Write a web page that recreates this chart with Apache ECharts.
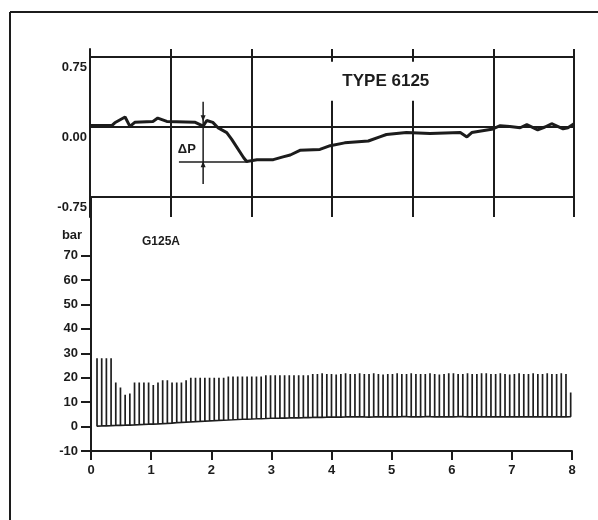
<!DOCTYPE html>
<html>
<head>
<meta charset="utf-8">
<script src="https://cdn.jsdelivr.net/npm/echarts@6/dist/echarts.min.js"></script>
<style>
  html, body { margin: 0; padding: 0; background: #fff; }
  #chart { width: 598px; height: 520px; }
</style>
</head>
<body>
<div id="chart"></div>
<script>
// upper panel: pressure difference curve (time s, delta p)
const dpTime = [0, 0.36, 0.41, 0.58, 0.66, 0.74, 1.04, 1.12, 1.27, 1.74, 1.87, 1.93, 2.03, 2.12, 2.26, 2.34,
  2.54, 2.59, 2.76, 3.03, 3.19, 3.31, 3.47, 3.80, 3.97, 4.21, 4.60, 4.79, 4.90, 5.23, 5.62, 6.12, 6.23,
  6.31, 6.64, 6.78, 6.94, 7.11, 7.22, 7.40, 7.52, 7.63, 7.72, 7.82, 7.90, 8.0];
const dpValue = [0.015, 0.015, 0.045, 0.107, 0.006, 0.05, 0.06, 0.096, 0.06, 0.05, 0.01, 0.07, 0.05, -0.01, -0.06, -0.13,
  -0.33, -0.37, -0.35, -0.35, -0.32, -0.30, -0.25, -0.24, -0.20, -0.17, -0.15, -0.105, -0.08, -0.058, -0.07, -0.06, -0.107,
  -0.06, -0.025, 0.014, 0.005, -0.008, 0.025, -0.03, 0.0, 0.035, 0.01, -0.02, -0.008, 0.035];

const upperColumns = [0, 4 / 3, 8 / 3, 4, 16 / 3, 20 / 3, 8];
const upperRows = [0.75, 0, -0.75];
const lowerTicks = [-10, 0, 10, 20, 30, 40, 50, 60, 70];

// lower panel: injection pulses (bar)
const pulseStart = 0.1;
const pulseStep = 0.078;
const pulseTops = [
  28, 28, 28, 28, 18, 16, 13, 13.5, 18, 18, 18, 18, 17, 18, 19, 19, 18, 18, 18, 19,
  20, 20, 20, 20, 20, 20, 20, 20, 20.5, 20.5, 20.5, 20.5, 20.5, 20.5, 20.5, 20.5,
  21, 21, 21, 21, 21, 21, 21, 21, 21, 21,
  21.5, 21.5, 21.8, 21.5, 21.5, 21.3, 21.5, 21.8, 21.5, 21.5,
  21.8, 21.5, 21.5, 21.8, 21.5, 21.3, 21.5, 21.5, 21.8, 21.5,
  21.5, 21.8, 21.5, 21.5, 21.5, 21.8, 21.5, 21.3, 21.5, 21.8,
  21.8, 21.5, 21.5, 21.8, 21.5, 21.5, 21.8, 21.8, 21.5, 21.5,
  21.8, 21.5, 21.3, 21.5, 21.8, 21.5, 21.5, 21.8, 21.5, 21.5,
  21.8, 21.5, 21.5, 21.8, 21.5, 14];
const pulseBases = [
  0.2, 0.3, 0.3, 0.4, 0.5, 0.5, 0.6, 0.6, 0.7, 0.8, 0.9, 1.0,
  1.0, 1.1, 1.2, 1.3, 1.4, 1.6, 1.7, 1.8, 1.9, 2.0, 2.1, 2.2,
  2.3, 2.4, 2.5, 2.6, 2.7, 2.8, 2.9, 3.0, 3.0, 3.1, 3.2, 3.2, 3.3,
  3.4, 3.4, 3.5, 3.5, 3.6, 3.6, 3.6, 3.7, 3.7, 3.8, 3.8, 3.8, 3.9, 3.9,
  4.0, 3.9, 4.0, 4.0, 4.1, 4.0, 4.0, 3.9, 4.0, 4.0,
  4.1, 4.0, 4.0, 4.0, 4.1, 4.1, 4.0, 4.0, 4.0, 4.1,
  4.1, 4.0, 4.0, 4.1, 4.0, 4.0, 4.1, 4.1, 4.0, 4.0,
  4.0, 4.1, 4.0, 4.0, 4.0, 4.1, 4.0, 4.0, 4.1, 4.0,
  4.0, 4.0, 4.1, 4.0, 4.0, 4.0, 4.1, 4.0, 4.0, 4.0, 4.1];

const ink = '#1c1c1c';
const fontFamily = '"Liberation Sans", Arial, sans-serif';

const chart = echarts.init(document.getElementById('chart'));

const dpData = dpTime.map(function (t, i) { return [t, dpValue[i]]; });

const pulseData = [];
const n = Math.min(pulseTops.length, pulseBases.length);
for (let i = 0; i < n; i++) {
  const t = Math.min(pulseStart + i * pulseStep, 8);
  pulseData.push([t, pulseBases[i]], [t, pulseTops[i]], [t, pulseBases[i]]);
}

const labelStyle = { color: ink, fontFamily: fontFamily, fontWeight: 'bold', fontSize: 13 };

const option = {
  animation: false,
  backgroundColor: '#fff',
  grid: [
    { left: 90, top: 49, width: 484, height: 168 },
    { left: 91, top: 197, width: 481, height: 254 }
  ],
  xAxis: [
    { gridIndex: 0, type: 'value', min: 0, max: 8, show: false },
    {
      gridIndex: 1, type: 'value', min: 0, max: 8, interval: 1,
      axisLine: { onZero: false, lineStyle: { color: ink, width: 2 } },
      axisTick: { length: 9, lineStyle: { color: ink, width: 2 } },
      axisLabel: Object.assign({ margin: 13 }, labelStyle),
      splitLine: { show: false }
    }
  ],
  yAxis: [
    {
      gridIndex: 0, type: 'value', min: -0.9643, max: 0.8357,
      axisLine: { show: true, lineStyle: { color: ink, width: 2 } },
      axisTick: { show: false },
      splitLine: { show: false },
      axisLabel: Object.assign({
        customValues: upperRows,
        formatter: function (v) { return v.toFixed(2); },
        margin: 3,
        verticalAlign: 'top',
        padding: [4, 0, 0, 0]
      }, labelStyle)
    },
    {
      gridIndex: 1, type: 'value', min: -10, max: 94, interval: 10,
      axisLine: { show: true, lineStyle: { color: ink, width: 2 } },
      axisTick: { show: true, length: 10, customValues: lowerTicks, lineStyle: { color: ink, width: 2 } },
      splitLine: { show: false },
      axisLabel: Object.assign({ customValues: lowerTicks, margin: 13 }, labelStyle)
    }
  ],
  graphic: [
    { type: 'line', shape: { x1: 10, y1: 12, x2: 598, y2: 12 }, style: { stroke: ink, lineWidth: 2 } },
    { type: 'line', shape: { x1: 10, y1: 12, x2: 10, y2: 520 }, style: { stroke: ink, lineWidth: 2 } },
    { type: 'text', x: 72, y: 235, style: { text: 'bar', align: 'center', verticalAlign: 'middle', fill: ink, font: 'bold 13px ' + fontFamily } },
    { type: 'text', x: 161, y: 242, style: { text: 'G125A', align: 'center', verticalAlign: 'middle', fill: ink, font: 'bold 12px ' + fontFamily } }
  ],
  series: [
    {
      // upper panel frame lines
      type: 'line', xAxisIndex: 0, yAxisIndex: 0, data: [], z: 1,
      markLine: {
        silent: true, symbol: ['none', 'none'], animation: false,
        label: { show: false },
        lineStyle: { color: ink, width: 2, type: 'solid' },
        data: upperColumns.map(function (v) { return { xAxis: v }; })
          .concat(upperRows.map(function (v) { return { yAxis: v }; }))
      }
    },
    {
      type: 'line', xAxisIndex: 0, yAxisIndex: 0, data: dpData, z: 5,
      showSymbol: false, lineStyle: { color: ink, width: 3 }
    },
    {
      type: 'line', xAxisIndex: 0, yAxisIndex: 0, data: [[1.87, 0.27], [1.87, -0.61]], z: 4,
      showSymbol: false, lineStyle: { color: ink, width: 1.5 }
    },
    {
      type: 'line', xAxisIndex: 0, yAxisIndex: 0, data: [[1.47, -0.375], [2.60, -0.375]], z: 4,
      showSymbol: false, lineStyle: { color: ink, width: 1.5 }
    },
    {
      type: 'scatter', xAxisIndex: 0, yAxisIndex: 0, z: 6,
      symbol: 'triangle', symbolSize: [5, 6], itemStyle: { color: ink, opacity: 1 },
      data: [{ value: [1.87, 0.094], symbolRotate: 180 }, { value: [1.87, -0.40] }]
    },
    {
      type: 'scatter', xAxisIndex: 0, yAxisIndex: 0, z: 6, symbolSize: 0,
      itemStyle: { opacity: 1 },
      data: [[1.60, -0.235]],
      label: Object.assign({ show: true, position: 'inside', formatter: 'ΔP' }, labelStyle)
    },
    {
      type: 'scatter', xAxisIndex: 0, yAxisIndex: 0, z: 10, symbolSize: 0,
      itemStyle: { opacity: 1 },
      data: [[4.89, 0.49]],
      label: {
        show: true, position: 'inside', formatter: 'TYPE 6125',
        color: ink, fontFamily: fontFamily, fontWeight: 'bold', fontSize: 17,
        backgroundColor: '#fff', padding: [11, 18]
      }
    },
    {
      type: 'line', xAxisIndex: 1, yAxisIndex: 1, data: pulseData,
      showSymbol: false, lineStyle: { color: '#1e1e1e', width: 1.7 }
    }
  ]
};

chart.setOption(option);
</script>
</body>
</html>
